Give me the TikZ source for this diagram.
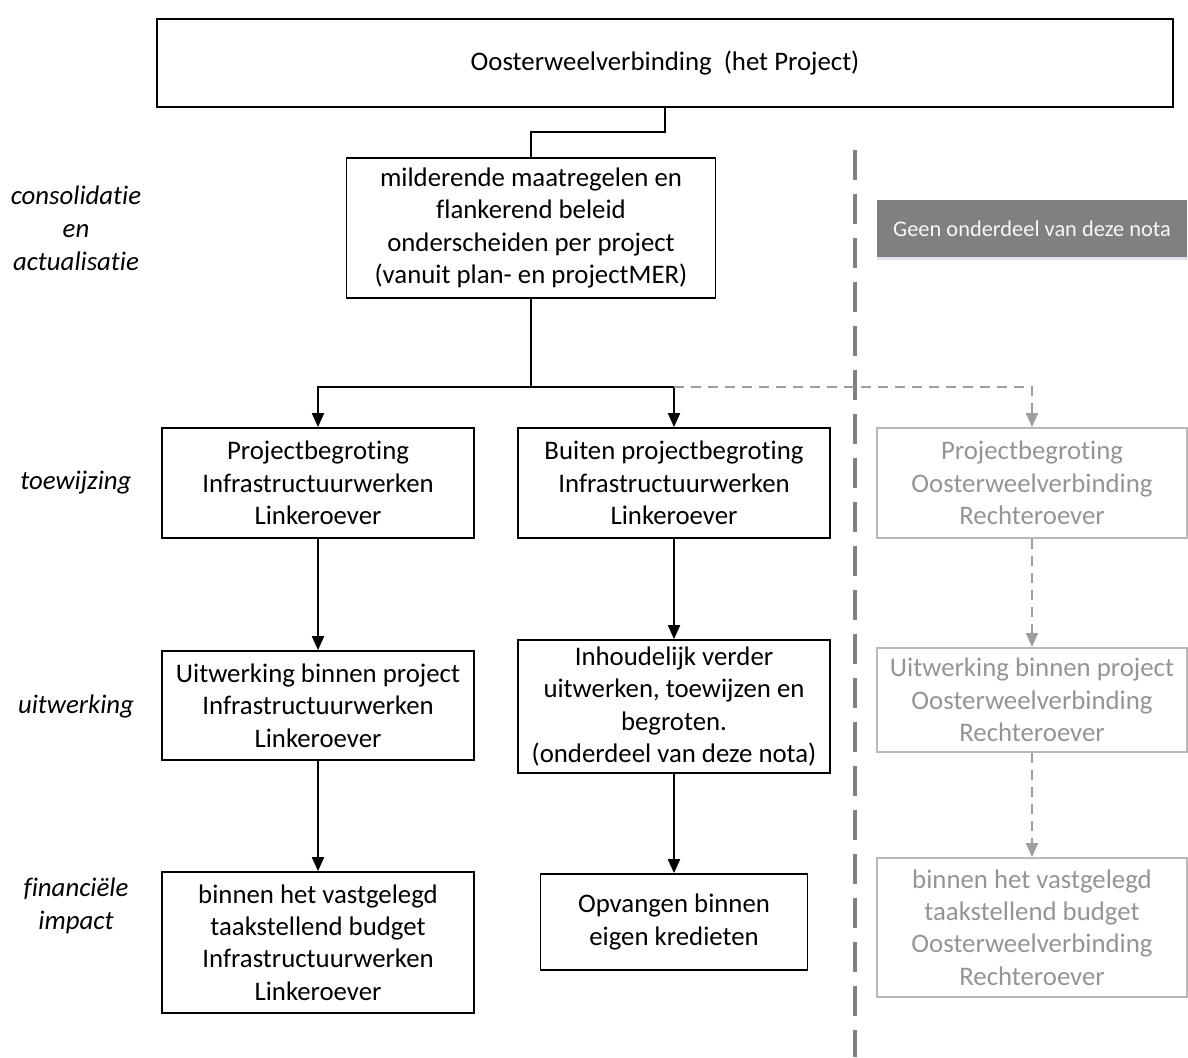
\documentclass[tikz,border=0pt]{standalone}
\usepackage{fontspec}
\setmainfont{Carlito}[Ligatures={NoCommon}]
\usetikzlibrary{arrows.meta,shadows}

\begin{document}
\begin{tikzpicture}[
        x=0.5pt, y=-0.5pt,
        >={Triangle[width=6pt,length=7pt]},
        box/.style={
            rectangle,
            draw=black,
            line width=0.9pt,
            align=center,
            inner sep=0pt,
            font=\fontsize{13.4}{16.2}\selectfont
        },
        gbox/.style={
            box,
            draw=black!28,
            text=black!42
        },
        ptr/.style={
            ->,
            line width=1pt,
            draw=black
        },
        gptr/.style={
            ->,
            line width=0.9pt,
            draw=black!38,
            dash pattern=on 5pt off 3.5pt
        },
        lbl/.style={
            align=center,
            font=\fontsize{13.4}{16.5}\selectfont\itshape
        }
    ]

    \useasboundingbox (0,0) rectangle (1188,1057);

    % bovenste blok
    \node[box, minimum width=508pt, minimum height=44pt] (top) at (665,63) {Oosterweelverbinding\ \ (het Project)};
    \node[box, minimum width=184.5pt, minimum height=70pt] (mit) at (531,228)
        {milderende maatregelen en\\flankerend beleid\\onderscheiden per project\\(vanuit plan- en projectMER)};

    % linkeroever
    \node[box, minimum width=156pt, minimum height=55pt] (p1) at (318,483)
        {Projectbegroting\\Infrastructuurwerken\\Linkeroever};
    \node[box, minimum width=156pt, minimum height=54.5pt] (p2) at (318,705.5)
        {Uitwerking binnen project\\Infrastructuurwerken\\Linkeroever};
    \node[box, minimum width=156pt, minimum height=70.5pt] (p3) at (318,942.5)
        {binnen het vastgelegd\\taakstellend budget\\Infrastructuurwerken\\Linkeroever};

    % buiten projectbegroting
    \node[box, minimum width=156pt, minimum height=55pt] (b1) at (674,483)
        {Buiten projectbegroting\\Infrastructuurwerken\\Linkeroever};
    \node[box, minimum width=156pt, minimum height=66.5pt] (b2) at (674,706.5)
        {Inhoudelijk verder\\uitwerken, toewijzen en\\begroten.\\(onderdeel van deze nota)};
    \node[box, minimum width=133.5pt, minimum height=48pt] (b3) at (674,922)
        {Opvangen binnen\\eigen kredieten};

    % rechteroever (geen onderdeel)
    \node[fill=black!50, text=black!3, minimum width=155pt, minimum height=28.5pt, inner sep=0pt,
          font=\fontsize{11.2}{13}\selectfont,
          drop shadow={shadow xshift=0pt, shadow yshift=-1.5pt, opacity=0.2, fill=blue!25!gray}]
        (geen) at (1032,228.5) {Geen onderdeel van deze nota};
    \node[gbox, minimum width=155pt, minimum height=55pt] (r1) at (1032,483)
        {Projectbegroting\\Oosterweelverbinding\\Rechteroever};
    \node[gbox, minimum width=155pt, minimum height=52pt] (r2) at (1032,700)
        {Uitwerking binnen project\\Oosterweelverbinding\\Rechteroever};
    \node[gbox, minimum width=155pt, minimum height=69.5pt] (r3) at (1032,927.5)
        {binnen het vastgelegd\\taakstellend budget\\Oosterweelverbinding\\Rechteroever};

    % labels links
    \node[lbl] (l1) at (76,228) {consolidatie\\en\\actualisatie};
    \node[lbl] (l2) at (76,483) {toewijzing};
    \node[lbl] (l3) at (76,706) {uitwerking};
    \node[lbl] (l4) at (76,906) {financiële\\impact};

    % scheidingslijn
    \coordinate (sepA) at (855,150);
    \coordinate (sepB) at (855,1057);
    \draw[line width=1.6pt, draw=black!50, dash pattern=on 15pt off 7pt] (sepA) -- (sepB);

    % verbindingen
    \coordinate (split) at (531,387);
    \draw[line width=1pt] (top.south) -- ++(0,24) -| (mit.north);
    \draw[line width=1pt] (mit.south) -- (split);
    \draw[ptr] (split) -| (p1.north);
    \draw[ptr] (split) -| (b1.north);
    \draw[gptr] (b1.north |- split) -| (r1.north);

    \draw[ptr] (p1) -- (p2);
    \draw[ptr] (p2) -- (p3);
    \draw[ptr] (b1) -- (b2);
    \draw[ptr] (b2) -- (b3);
    \draw[gptr] (r1) -- (r2);
    \draw[gptr] (r2) -- (r3);

\end{tikzpicture}
\end{document}
